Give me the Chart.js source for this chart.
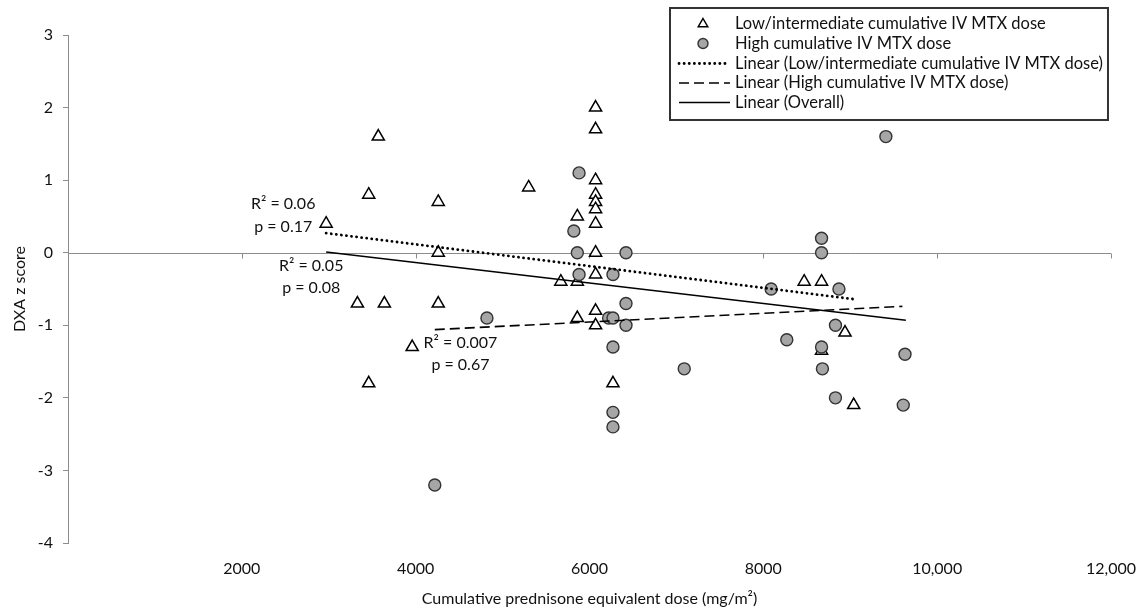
<!DOCTYPE html>
<html>
<head>
<meta charset="utf-8">
<script src="https://cdn.jsdelivr.net/npm/chart.js@4.4.1/dist/chart.umd.min.js"></script>
<style>
  html, body { margin: 0; padding: 0; background: #fff; }
  #wrap { width: 1144px; height: 611px; }
</style>
</head>
<body>
<div id="wrap"><canvas id="myChart"></canvas></div>
<script>
// --- Data ---
// Low/intermediate cumulative IV MTX dose (triangles)
const lowDoseX = [2970, 3330, 3460, 3460, 3570, 3640, 3960, 4260, 4260, 4260,
                  5300, 5670, 5860, 5860, 5860, 6070, 6070, 6070, 6070, 6070,
                  6070, 6070, 6070, 6070, 6070, 6070, 6270, 8470, 8670, 8670,
                  8940, 9040];
const lowDoseY = [0.4, -0.7, 0.8, -1.8, 1.6, -0.7, -1.3, 0.7, 0, -0.7,
                  0.9, -0.4, 0.5, -0.4, -0.9, 2.0, 1.7, 1.0, 0.8, 0.7,
                  0.6, 0.4, 0, -0.3, -0.8, -1.0, -1.8, -0.4, -0.4, -1.35,
                  -1.1, -2.1];

// High cumulative IV MTX dose (grey circles)
const highDoseX = [4220, 4820, 5820, 5880, 5860, 5880, 6220, 6270, 6270, 6270,
                   6270, 6270, 6420, 6420, 6420, 7090, 8090, 8270, 8670, 8670,
                   8670, 8680, 8830, 8830, 8870, 9410, 9610, 9630];
const highDoseY = [-3.2, -0.9, 0.3, 1.1, 0, -0.3, -0.9, -0.9, -0.3, -1.3,
                   -2.2, -2.4, 0, -0.7, -1.0, -1.6, -0.5, -1.2, 0.2, 0,
                   -1.3, -1.6, -1.0, -2.0, -0.5, 1.6, -2.1, -1.4];

// Linear trend lines (end points)
const trendLowX = [2970, 9040];
const trendLowY = [0.27, -0.64];
const trendHighX = [4220, 9600];
const trendHighY = [-1.06, -0.74];
const trendAllX = [2970, 9640];
const trendAllY = [0.01, -0.93];

const seriesNames = [
    'Low/intermediate cumulative IV MTX dose',
    'High cumulative IV MTX dose',
    'Linear (Low/intermediate cumulative IV MTX dose)',
    'Linear (High cumulative IV MTX dose)',
    'Linear (Overall)'
];

const xTickLabels = ['', '2000', '4000', '6000', '8000', '10,000', '12,000'];
const yTickLabels = ['-4', '-3', '-2', '-1', '0', '1', '2', '3'];

// Regression statistics written next to the lines (anchor = centre of first line, in data units)
const statTexts = [
    ['R\u00b2 = 0.06', 'p = 0.17'],
    ['R\u00b2 = 0.05', 'p = 0.08'],
    ['R\u00b2 = 0.007', 'p = 0.67']
];
const statAnchorX = [2476, 2798, 4515];
const statAnchorY = [0.67, -0.18, -1.24];

// --- Helpers ---
const toPoints = (xs, ys) => xs.map((x, i) => ({ x: x, y: ys[i] }));
const FONT = 'Lato';
const TEXT = '#111';
const AXIS = '#8c8c8c';

// --- Extra drawing: zero line with ticks, stats text, boxed legend ---
const extras = {
    id: 'extras',
    beforeDatasetsDraw(chart) {
        const { ctx, chartArea, scales: { x, y } } = chart;
        const y0 = Math.round(y.getPixelForValue(0)) + 0.5;
        ctx.save();
        ctx.strokeStyle = AXIS;
        ctx.lineWidth = 1;
        ctx.beginPath();
        ctx.moveTo(chartArea.left, y0);
        ctx.lineTo(chartArea.right, y0);
        x.ticks.forEach(t => {
            const px = Math.round(x.getPixelForValue(t.value)) + 0.5;
            ctx.moveTo(px, y0);
            ctx.lineTo(px, y0 + 5);
        });
        ctx.stroke();
        ctx.restore();
    },
    afterDraw(chart) {
        const { ctx, chartArea, scales: { x, y } } = chart;
        ctx.save();
        // stats text
        ctx.fillStyle = TEXT;
        ctx.font = '16px ' + FONT;
        ctx.textAlign = 'center';
        ctx.textBaseline = 'middle';
        statTexts.forEach((lines, i) => {
            const px = x.getPixelForValue(statAnchorX[i]);
            const py = y.getPixelForValue(statAnchorY[i]);
            lines.forEach((t, j) => ctx.fillText(t, px, py + j * 22.5));
        });

        // legend box
        const boxRight = chartArea.right - 3;
        const boxLeft = 670;
        const boxTop = 8;
        const boxBottom = 120;
        ctx.fillStyle = '#fff';
        ctx.fillRect(boxLeft, boxTop, boxRight - boxLeft, boxBottom - boxTop);
        ctx.strokeStyle = '#333';
        ctx.lineWidth = 2;
        ctx.strokeRect(boxLeft, boxTop, boxRight - boxLeft, boxBottom - boxTop);

        const rowY = [24, 43.5, 63.5, 83, 102.5];
        const legendOrder = [0, 1, 2, 3, 4];
        legendOrder.forEach((di, r) => {
            const ds = chart.data.datasets[di];
            const cy = rowY[r];
            ctx.save();
            if (ds.showLine) {
                ctx.strokeStyle = ds.borderColor;
                ctx.lineWidth = ds.borderWidth;
                ctx.lineCap = ds.borderCapStyle || 'butt';
                ctx.setLineDash(ds.borderDash || []);
                ctx.beginPath();
                ctx.moveTo(679, cy);
                ctx.lineTo(730, cy);
                ctx.stroke();
            } else {
                ctx.fillStyle = ds.backgroundColor;
                ctx.strokeStyle = ds.borderColor;
                ctx.lineWidth = ds.borderWidth;
                Chart.helpers.drawPoint(ctx, {
                    pointStyle: ds.pointStyle,
                    radius: ds.pointStyle === 'triangle' ? 5.5 : 5,
                    rotation: 0,
                    borderWidth: ds.borderWidth
                }, 703, cy);
            }
            ctx.restore();
            ctx.fillStyle = TEXT;
            ctx.font = '16.5px ' + FONT;
            ctx.textAlign = 'left';
            ctx.textBaseline = 'middle';
            ctx.fillText(ds.label, 735, cy);
        });
        ctx.restore();
    }
};

// --- Chart Initialization ---
const ctx = document.getElementById('myChart');

const myChart = new Chart(ctx, {
    type: 'scatter',
    data: {
        datasets: [{
            label: seriesNames[0],
            data: toPoints(lowDoseX, lowDoseY),
            pointStyle: 'triangle',
            pointRadius: 7,
            backgroundColor: '#fff',
            borderColor: '#000',
            borderWidth: 1.5,
            order: 2
        }, {
            label: seriesNames[1],
            data: toPoints(highDoseX, highDoseY),
            pointStyle: 'circle',
            pointRadius: 6,
            backgroundColor: '#a6a6a6',
            borderColor: '#333',
            borderWidth: 1.4,
            order: 1
        }, {
            label: seriesNames[2],
            data: toPoints(trendLowX, trendLowY),
            showLine: true,
            pointRadius: 0,
            borderColor: '#000',
            borderWidth: 2.8,
            borderDash: [0.1, 5],
            borderCapStyle: 'round',
            order: 0
        }, {
            label: seriesNames[3],
            data: toPoints(trendHighX, trendHighY),
            showLine: true,
            pointRadius: 0,
            borderColor: '#000',
            borderWidth: 1.6,
            borderDash: [10, 5],
            order: 0
        }, {
            label: seriesNames[4],
            data: toPoints(trendAllX, trendAllY),
            showLine: true,
            pointRadius: 0,
            borderColor: '#000',
            borderWidth: 1.5,
            order: 0
        }]
    },
    options: {
        responsive: true,
        maintainAspectRatio: false,
        animation: false,
        events: [],
        layout: { padding: { top: 35, right: 33, left: 0, bottom: 0 } },
        plugins: {
            legend: { display: false },
            tooltip: { enabled: false }
        },
        scales: {
            x: {
                type: 'linear',
                min: 0,
                max: 12000,
                grid: { display: false },
                border: { display: false },
                ticks: {
                    stepSize: 2000,
                    autoSkip: false,
                    maxRotation: 0,
                    padding: 8,
                    color: TEXT,
                    font: { family: FONT, size: 16 },
                    callback: (v, i) => xTickLabels[i]
                },
                title: {
                    display: true,
                    text: 'Cumulative prednisone equivalent dose (mg/m\u00b2)',
                    color: TEXT,
                    font: { family: FONT, size: 16 },
                    padding: { top: 4, bottom: 3 }
                },
                afterFit(scale) { scale.height = 68; }
            },
            y: {
                min: -4,
                max: 3,
                grid: {
                    drawOnChartArea: false,
                    drawTicks: true,
                    tickLength: 5,
                    color: AXIS
                },
                border: { display: true, color: AXIS },
                ticks: {
                    stepSize: 1,
                    padding: 10,
                    color: TEXT,
                    font: { family: FONT, size: 16 },
                    callback: (v, i) => yTickLabels[i]
                },
                title: {
                    display: true,
                    text: 'DXA z score',
                    color: TEXT,
                    font: { family: FONT, size: 16 },
                    padding: { top: 10, bottom: 0 }
                },
                afterFit(scale) { scale.width = 68; }
            }
        }
    },
    plugins: [extras]
});
</script>
</body>
</html>
